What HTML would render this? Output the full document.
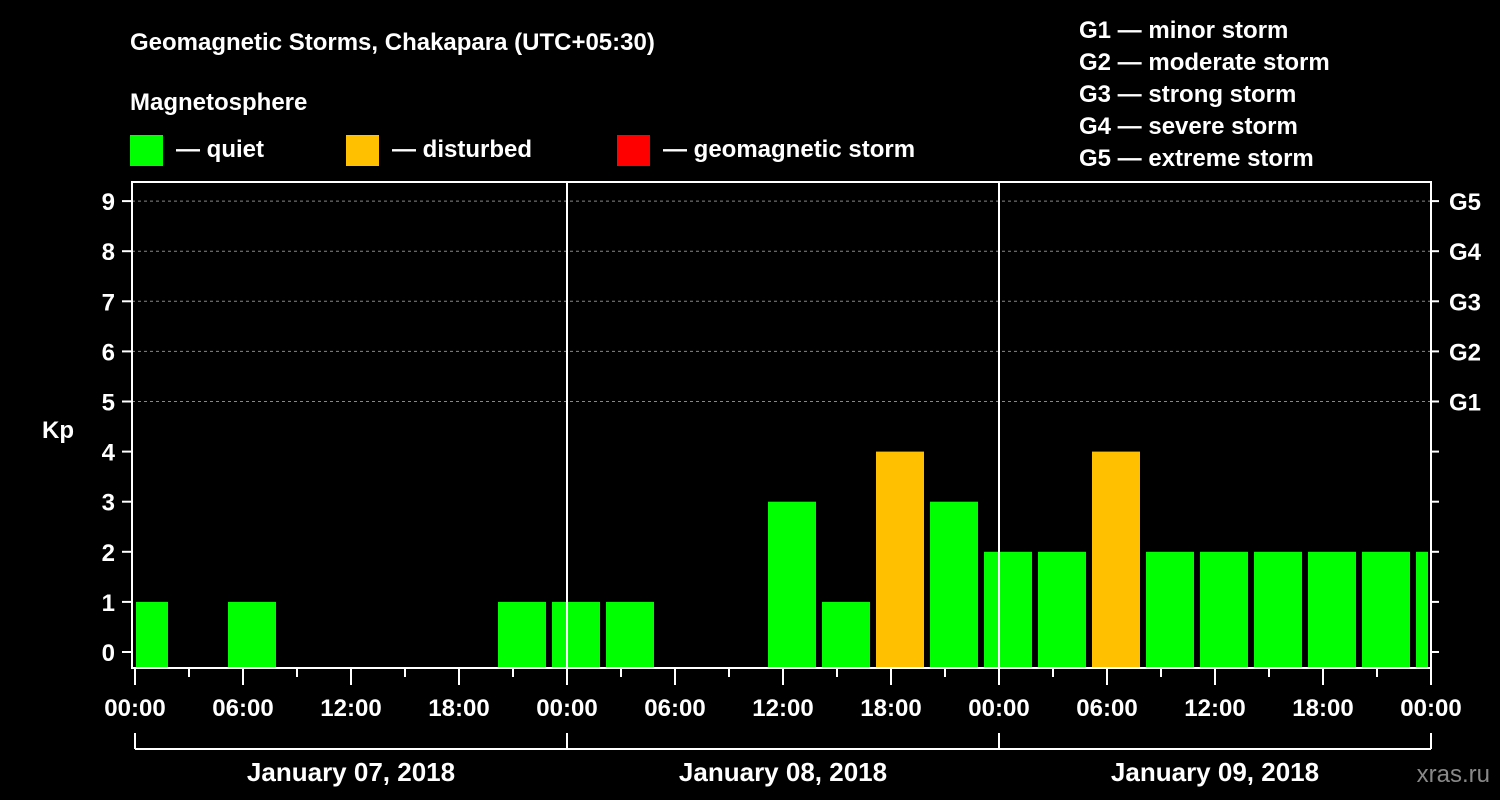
<!DOCTYPE html>
<html><head><meta charset="utf-8"><style>
body{margin:0;background:#000;}
svg{display:block;font-family:"Liberation Sans",sans-serif;font-weight:bold;}
</style></head><body>
<svg id="c" width="1500" height="800" xmlns="http://www.w3.org/2000/svg">
<rect width="1500" height="800" fill="#000"/>
<text x="130" y="50" fill="#fff" font-size="24">Geomagnetic Storms, Chakapara (UTC+05:30)</text>
<text x="130" y="110" fill="#fff" font-size="24">Magnetosphere</text>
<g><rect x="130" y="135" width="33" height="31" fill="#00ff00"/><text x="176" y="157" fill="#fff" font-size="24">— quiet</text></g>
<g><rect x="346" y="135" width="33" height="31" fill="#ffc000"/><text x="392" y="157" fill="#fff" font-size="24">— disturbed</text></g>
<g><rect x="617" y="135" width="33" height="31" fill="#ff0000"/><text x="663" y="157" fill="#fff" font-size="24">— geomagnetic storm</text></g>
<g fill="#fff" font-size="24">
<text x="1079" y="38">G1 — minor storm</text><text x="1079" y="70">G2 — moderate storm</text><text x="1079" y="102">G3 — strong storm</text><text x="1079" y="134">G4 — severe storm</text><text x="1079" y="166">G5 — extreme storm</text></g>
<text x="42" y="438" fill="#fff" font-size="24">Kp</text>
<text x="1490" y="782" fill="#888" font-size="24" text-anchor="end" font-weight="normal">xras.ru</text>
<g id="marks"></g>
</svg>
<script>
const kpValues=[1,0,1,0,0,0,0,1,1,1,0,0,3,1,4,3,2,2,4,2,2,2,2,2,2];
const yTicks=[0,1,2,3,4,5,6,7,8,9];
const gLabels=["G1","G2","G3","G4","G5"];
const xTickLabels=["00:00","06:00","12:00","18:00","00:00","06:00","12:00","18:00","00:00","06:00","12:00","18:00","00:00"];
const dayLabels=["January 07, 2018","January 08, 2018","January 09, 2018"];
const NS="http://www.w3.org/2000/svg";
const X0=135,PXH=18,X1=1431,YT=182,YB=668;
const xs=h=>X0+h*PXH;
const ys=v=>652-v*50.1;
const g=document.getElementById('marks');
function mk(t,a,p){const e=document.createElementNS(NS,t);for(const k in a)e.setAttribute(k,a[k]);(p||g).appendChild(e);return e;}
// gridlines
yTicks.forEach(v=>{if(v>=5){const l=mk('line',{x1:X0-3,x2:X1,y1:ys(v),y2:ys(v),stroke:'#888','stroke-dasharray':'3,3'});

}});
// bars
kpValues.forEach((v,j)=>{if(v<=0)return;
let l=X0+93+54*(j-2),r=l+48;l=Math.max(l,X0+1);r=Math.min(r,X1-3);
const c=v>=5?'#ff0000':(v>=4?'#ffc000':'#00ff00');
const b=mk('rect',{x:l,y:ys(v),width:r-l,height:YB-ys(v),fill:c});

});
// day separators
[24,48].forEach(h=>{const l=mk('line',{x1:xs(h),x2:xs(h),y1:YT,y2:YB,stroke:'#fff','stroke-width':2});

});
// frame
const f=mk('rect',{x:132,y:YT,width:X1-132,height:YB-YT,fill:'none',stroke:'#fff','stroke-width':2});


// y ticks
yTicks.forEach(v=>{mk('line',{x1:122,x2:132,y1:ys(v),y2:ys(v),stroke:'#fff','stroke-width':2});
mk('line',{x1:X1,x2:X1+8,y1:ys(v),y2:ys(v),stroke:'#fff','stroke-width':2});
const t=mk('text',{x:115,y:ys(v)+9,fill:'#fff','font-size':24,'text-anchor':'end'});t.textContent=v;

});
gLabels.forEach((s,i)=>{const t=mk('text',{x:1449,y:ys(5+i)+9,fill:'#fff','font-size':24});t.textContent=s;

});
// x ticks
for(let h=0;h<=72;h+=3){const maj=h%6==0;mk('line',{x1:xs(h),x2:xs(h),y1:YB+1,y2:YB+(maj?17:9),stroke:'#fff','stroke-width':2});}
xTickLabels.forEach((s,i)=>{const t=mk('text',{x:xs(i*6),y:716,fill:'#fff','font-size':24,'text-anchor':'middle'});t.textContent=s;

});
// day bracket
mk('line',{x1:X0,x2:X1,y1:749,y2:749,stroke:'#fff','stroke-width':2});
[0,24,48,72].forEach(h=>mk('line',{x1:xs(h),x2:xs(h),y1:733,y2:749,stroke:'#fff','stroke-width':2}));
dayLabels.forEach((s,i)=>{const t=mk('text',{x:xs(i*24+12),y:781,fill:'#fff','font-size':26,'text-anchor':'middle'});t.textContent=s;

});
</script>
</body></html>
